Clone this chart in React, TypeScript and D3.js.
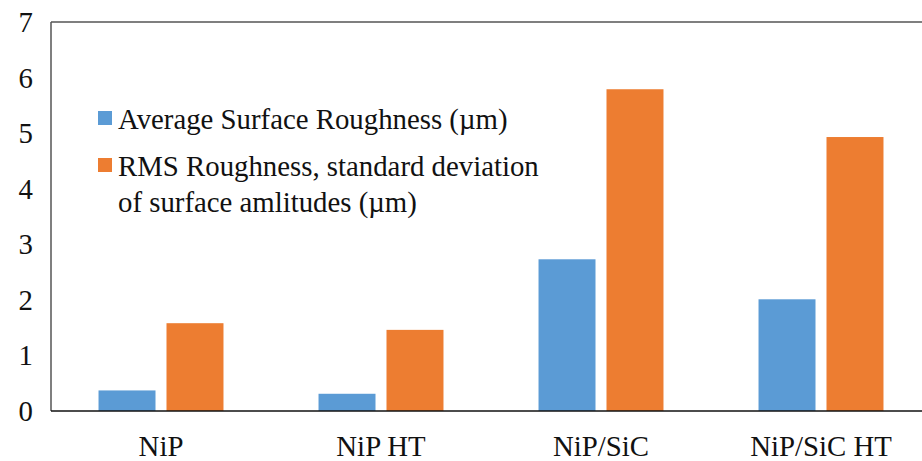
import React from "react";
import * as d3 from "d3";

const categories = ["NiP", "NiP HT", "NiP/SiC", "NiP/SiC HT"];
const seriesNames = [
  "Average Surface Roughness (µm)",
  "RMS Roughness, standard deviation of surface amlitudes (µm)",
];
const avgRoughness = [0.37, 0.31, 2.73, 2.01];
const rmsRoughness = [1.58, 1.46, 5.79, 4.93];
const yTicks = [0, 1, 2, 3, 4, 5, 6, 7];
const colors = ["#5B9BD5", "#ED7D31"];

const W = 922;
const H = 461;
const left = 51;
const right = 931;
const top = 22;
const bottom = 411;

export default function App() {
  const x = d3
    .scaleBand<string>()
    .domain(categories)
    .range([left, right])
    .paddingInner(0.432)
    .paddingOuter(0.216);
  const xs = d3
    .scaleBand<number>()
    .domain([0, 1])
    .range([0, x.bandwidth()])
    .paddingInner(0.1618);
  const y = d3.scaleLinear().domain([0, 7]).range([bottom, top]);
  const series = [avgRoughness, rmsRoughness];
  const font = "'Liberation Serif', 'Times New Roman', serif";
  const fs = 28.8;

  return (
    <svg
      width={W}
      height={H}
      style={{ position: "absolute", left: 0, top: 0, background: "#fff" }}
      fontFamily={font}
    >
      <rect x={0} y={0} width={W} height={H} fill="#fff" />
      <line x1={left} x2={W} y1={top} y2={top} stroke="#555" strokeWidth={1.5} />
      <line x1={left} x2={left} y1={top} y2={bottom} stroke="#555" strokeWidth={1.5} />
      {series.map((vals, si) =>
        vals.map((v, i) => (
          <rect
            key={`${si}-${i}`}
            x={(x(categories[i]) as number) + (xs(si) as number)}
            y={y(v)}
            width={xs.bandwidth()}
            height={y(0) - y(v)}
            fill={colors[si]}
          />
        ))
      )}
      <line x1={left} x2={W} y1={bottom} y2={bottom} stroke="#111" strokeWidth={1.5} />
      {yTicks.map((t) => (
        <text
          key={t}
          x={33}
          y={y(t)}
          textAnchor="end"
          dominantBaseline="central"
          fontSize={fs}
          fill="#111"
        >
          {t}
        </text>
      ))}
      {categories.map((c) => (
        <text
          key={c}
          x={(x(c) as number) + x.bandwidth() / 2}
          y={456}
          textAnchor="middle"
          fontSize={fs}
          fill="#111"
        >
          {c}
        </text>
      ))}
      <rect x={98} y={111} width={14} height={14} fill={colors[0]} />
      <text x={118} y={129} fontSize={fs} fill="#111">
        {seriesNames[0]}
      </text>
      <rect x={98} y={158} width={14} height={14} fill={colors[1]} />
      <text x={118} y={176} fontSize={fs} fill="#111">
        RMS Roughness, standard deviation
      </text>
      <text x={118} y={212} fontSize={fs} fill="#111">
        of surface amlitudes (µm)
      </text>
    </svg>
  );
}
